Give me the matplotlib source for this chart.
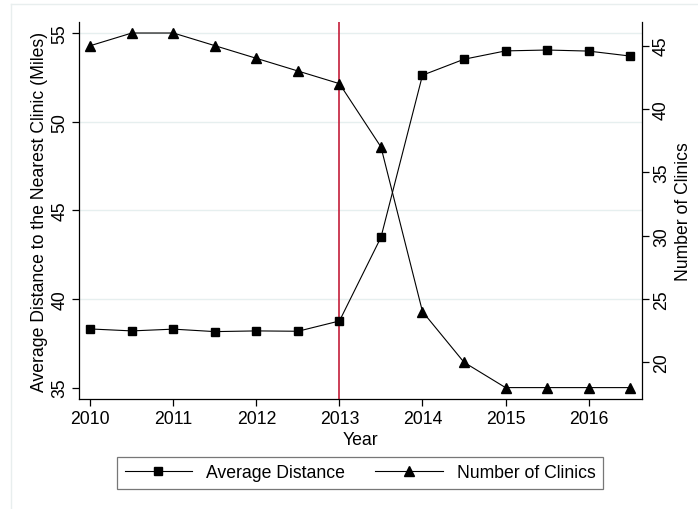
import matplotlib
matplotlib.use("Agg")
import matplotlib.pyplot as plt
from matplotlib.lines import Line2D

plt.rcParams["font.family"] = ["Liberation Sans", "DejaVu Sans"]

years = [2010, 2010.5, 2011, 2011.5, 2012, 2012.5, 2013,
         2013.5, 2014, 2014.5, 2015, 2015.5, 2016, 2016.5]
avg_distance = [38.31, 38.20, 38.30, 38.16, 38.20, 38.18, 38.76,
                43.48, 52.62, 53.52, 53.99, 54.04, 53.98, 53.70]
num_clinics = [45, 46, 46, 45, 44, 43, 42, 37, 24, 20, 18, 18, 18, 18]

x_ticks = [2010, 2011, 2012, 2013, 2014, 2015, 2016]
left_ticks = [35, 40, 45, 50, 55]
right_ticks = [20, 25, 30, 35, 40, 45]
policy_year = 2013

W, H = 698, 510
fig = plt.figure(figsize=(W / 100, H / 100), dpi=100)
fig.patch.set_facecolor("white")

# faint outer region border
fig.add_artist(Line2D([11 / W, 1], [1 - 5 / H, 1 - 5 / H], transform=fig.transFigure,
                      color="#e8eeee", lw=1))
fig.add_artist(Line2D([11 / W, 11 / W], [0, 1 - 5 / H], transform=fig.transFigure,
                      color="#e8eeee", lw=1))

ax = fig.add_axes([79.3 / W, 1 - 400 / H, (641.7 - 79.3) / W, (400 - 23) / H])
ax2 = ax.twinx()

fs = 12.7
ax.set_xlim(2009.867, 2016.64)
ax.set_ylim(34.36, 55.62)
ax2.set_ylim(17.1, 46.87)

for y in [40, 45, 50, 55]:
    ax.axhline(y, color="#e6efef", lw=1.0, zorder=0)

ax.axvline(policy_year, color="#c41e3a", lw=1.2, zorder=1)

ax.plot(years, avg_distance, color="black", lw=0.8, marker="s", markersize=5.5,
        zorder=3)
ax2.plot(years, num_clinics, color="black", lw=0.8, marker="^", markersize=6.5,
         zorder=3)

for a in (ax, ax2):
    a.spines["top"].set_visible(False)
    for s in ("left", "right", "bottom"):
        a.spines[s].set_linewidth(0.9)
ax.spines["right"].set_visible(False)
ax2.spines["left"].set_visible(False)
ax2.spines["bottom"].set_visible(False)

ax.set_xticks(x_ticks)
ax.set_xticklabels([str(t) for t in x_ticks], fontsize=fs)
ax.set_yticks(left_ticks)
ax.set_yticklabels([str(t) for t in left_ticks], fontsize=fs, rotation=90, va="center")
ax2.set_yticks(right_ticks)
ax2.set_yticklabels([str(t) for t in right_ticks], fontsize=fs, rotation=90, va="center")
ax.tick_params(axis="both", direction="out", length=5, width=0.9, pad=3)
ax2.tick_params(axis="y", direction="out", length=5, width=0.9, pad=3)

ax.set_xlabel("Year", fontsize=fs)
ax.xaxis.set_label_coords(0.5, -0.085)
ax.set_ylabel("Average Distance to the Nearest Clinic (Miles)", fontsize=fs, labelpad=2)
ax2.set_ylabel("Number of Clinics", fontsize=fs, labelpad=4)

h1 = Line2D([], [], color="black", lw=0.8, marker="s", markersize=5.5)
h2 = Line2D([], [], color="black", lw=0.8, marker="^", markersize=6.5)
leg = fig.legend([h1, h2], ["Average Distance", "Number of Clinics"], ncol=2,
                 loc="center", bbox_to_anchor=(360 / W, 1 - 474 / H), fontsize=fs,
                 frameon=True, fancybox=False, edgecolor="#555555",
                 handlelength=3.8, columnspacing=1.75, handletextpad=0.8,
                 borderpad=0.45, borderaxespad=0)
leg.get_frame().set_linewidth(0.9)

fig.savefig("out.png", dpi=100, facecolor="white")
